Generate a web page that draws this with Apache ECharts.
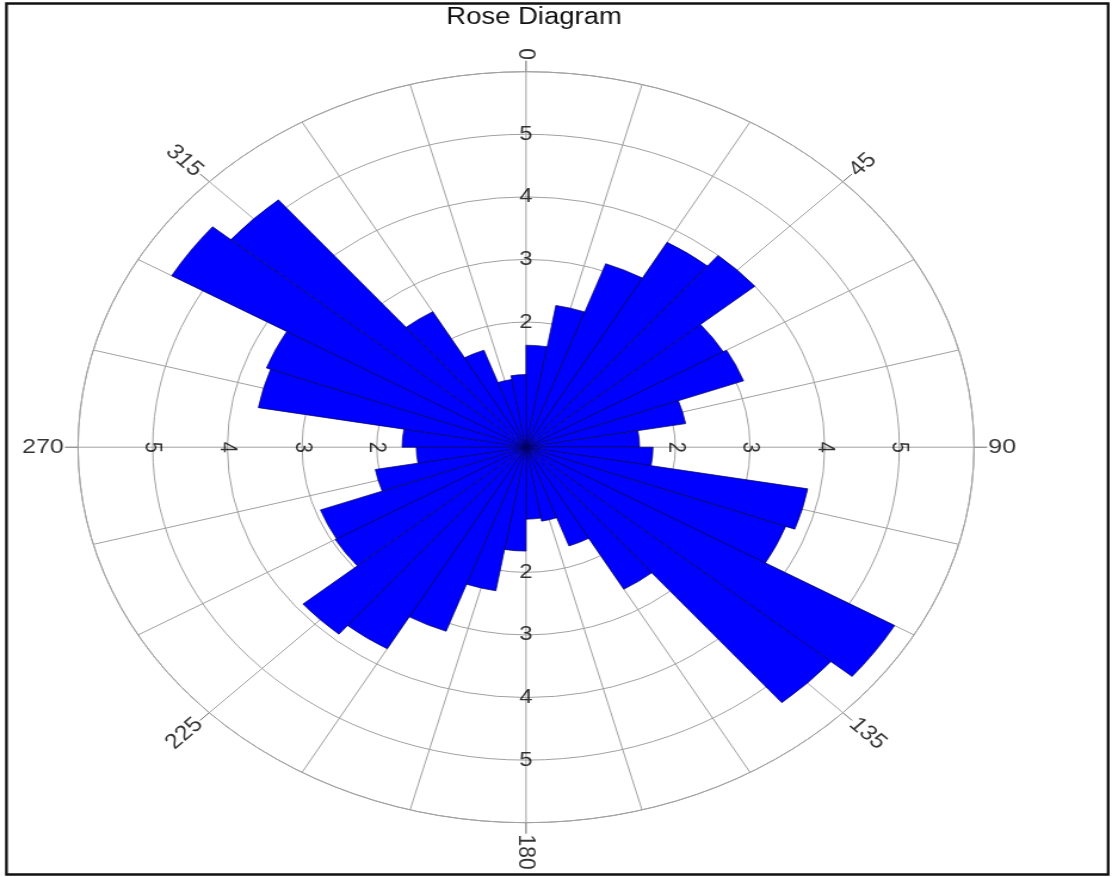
<!DOCTYPE html>
<html>
<head>
<meta charset="utf-8">
<script src="https://cdn.jsdelivr.net/npm/echarts@6/dist/echarts.min.js"></script>
<style>
html,body{margin:0;padding:0;background:#fff;overflow:hidden;}
#wrap{position:absolute;left:0;top:0;width:1114px;height:877px;overflow:hidden;background:#fff;}
#chart{position:absolute;left:0;top:0;width:934px;height:877px;transform:scaleX(1.1931);transform-origin:0 0;}
</style>
</head>
<body>
<div id="wrap"><div id="chart"></div></div>
<script>
// ---- data ----
const binStarts = [0,10,20,30,40,50,60,70,80,90,100,110,120,130,140,150,160,170,
                   180,190,200,210,220,230,240,250,260,270,280,290,300,310,320,330,340,350];
const binValues = [1.63,2.30,3.12,3.78,4.00,3.05,3.10,2.17,1.52,1.70,3.83,3.70,5.70,5.33,2.62,1.68,1.20,1.15,
                   1.66,2.33,3.13,3.72,3.90,2.95,2.93,2.05,1.47,1.66,3.64,3.70,5.48,5.16,2.50,1.65,1.10,1.16];
const angleLabelValues = [0,45,90,135,180,225,270,315];
const radialTickValues = [2,3,4,5];
const radialTickAngles = [0,90,180,270];
const radiusMax = 6;

// ---- layout (style only) ----
const CX = 440.9, CY = 447.2, R = 375.5;
const labelRadiusMax = 7;               // outer label polar: same scale, larger extent
const gridColor = '#a0a0a0';
const textColor = '#000000';
const font = 'Liberation Sans, Arial, Helvetica, sans-serif';

function labelRotate(a){ let r = 90 - a; while (r >= 90) r -= 180; while (r < -90) r += 180; return r; }
function outward(a){ return Math.cos((labelRotate(a) - (90 - a)) * Math.PI/180) > 0; }

const angleLabelData = angleLabelValues.map(a => ({
  name: String(a),
  value: [radiusMax + 0.19, a],
  label: { rotate: labelRotate(a), align: outward(a) ? 'left' : 'right' }
}));
const tickLabelData = [];
radialTickAngles.forEach(a => {
  radialTickValues.forEach(v => {
    tickLabelData.push({ name: String(v), value: [v, a], label: { rotate: (a % 180 === 0) ? 0 : -90 } });
  });
});

const chart = echarts.init(document.getElementById('chart'), null, {renderer:'canvas'});
const hidden = {axisLine:{show:false}, axisTick:{show:false}, axisLabel:{show:false}, splitLine:{show:false}, splitArea:{show:false}};
chart.setOption({
  animation: false,
  backgroundColor: 'transparent',
  title: {
    text: 'Rose Diagram', left: 447.6, top: 6, textAlign: 'center', padding: 0,
    textStyle: {fontSize: 23, fontWeight: 'normal', color: '#111', fontFamily: font}
  },
  graphic: [{
    type: 'rect', silent: true, z: 100,
    shape: {x: 5.4, y: 3.5, width: 923.4, height: 871},
    style: {fill: 'none', stroke: '#111', lineWidth: 2.3}
  }],
  polar: [
    {center: [CX, CY], radius: R},
    {center: [CX, CY], radius: R},
    {center: [CX, CY], radius: R},
    {center: [CX, CY], radius: R * labelRadiusMax / radiusMax}
  ],
  angleAxis: [
    Object.assign({}, hidden, {polarIndex: 0, type: 'value', min: 0, max: 360, interval: 15, startAngle: 90, clockwise: true,
      axisLine: {show: true, lineStyle: {color: gridColor, width: 1}},
      splitLine: {show: true, lineStyle: {color: gridColor, width: 1}}}),
    Object.assign({}, hidden, {polarIndex: 1, type: 'category', data: binStarts.map(String), boundaryGap: true,
      startAngle: 90, clockwise: true}),
    Object.assign({}, hidden, {polarIndex: 2, type: 'value', min: 0, max: 360, interval: 45, startAngle: 90, clockwise: true,
      axisTick: {show: true, inside: false, length: 11, lineStyle: {color: '#6a6a6a', width: 1}}}),
    Object.assign({}, hidden, {polarIndex: 3, type: 'value', min: 0, max: 360, startAngle: 90, clockwise: true})
  ],
  radiusAxis: [
    Object.assign({}, hidden, {polarIndex: 0, type: 'value', min: 0, max: radiusMax, interval: 1,
      splitLine: {show: true, lineStyle: {color: gridColor, width: 1}}}),
    Object.assign({}, hidden, {polarIndex: 1, type: 'value', min: 0, max: radiusMax}),
    Object.assign({}, hidden, {polarIndex: 2, type: 'value', min: 0, max: radiusMax}),
    Object.assign({}, hidden, {polarIndex: 3, type: 'value', min: 0, max: labelRadiusMax})
  ],
  series: [
    {
      type: 'bar', coordinateSystem: 'polar', polarIndex: 1, silent: true, z: 2,
      data: binValues, barCategoryGap: '0%',
      itemStyle: {color: '#0000ff', borderColor: '#00005a', borderWidth: 0.7}
    },
    {
      type: 'scatter', coordinateSystem: 'polar', polarIndex: 3, silent: true, z: 3,
      symbolSize: 1, itemStyle: {color: 'rgba(0,0,0,0)'},
      data: angleLabelData,
      label: {show: true, position: 'inside', formatter: '{b}', verticalAlign: 'middle',
        color: textColor, fontSize: 21, fontFamily: font}
    },
    {
      type: 'scatter', coordinateSystem: 'polar', polarIndex: 3, silent: true, z: 3,
      symbolSize: 1, itemStyle: {color: 'rgba(0,0,0,0)'},
      data: tickLabelData,
      label: {show: true, position: 'inside', formatter: '{b}', align: 'center', verticalAlign: 'middle',
        color: textColor, fontSize: 20, fontFamily: font}
    }
  ]
});
</script>
</body>
</html>
